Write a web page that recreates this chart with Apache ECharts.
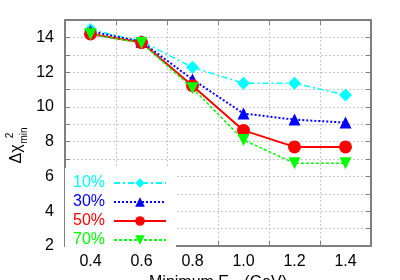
<!DOCTYPE html>
<html>
<head>
<meta charset="utf-8">
<script src="https://cdn.jsdelivr.net/npm/echarts@6/dist/echarts.min.js"></script>
<style>html,body{margin:0;padding:0;background:#fff}#c{width:400px;height:280px}</style>
</head>
<body>
<div id="c"></div>
<script>
var xValues = [0.4, 0.6, 0.8, 1.0, 1.2, 1.4];
var names = ['10%', '30%', '50%', '70%'];
var s10 = [14.45, 13.77, 12.28, 11.36, 11.36, 10.69];
var s30 = [14.35, 13.75, 11.58, 9.62, 9.27, 9.1];
var s50 = [14.2, 13.7, 11.22, 8.65, 7.7, 7.7];
var s70 = [14.18, 13.68, 11.08, 8.1, 6.76, 6.76];
var xTickLabels = ['0.4', '0.6', '0.8', '1.0', '1.2', '1.4'];
var yTickLabels = ['2', '4', '6', '8', '10', '12', '14'];

var FONT = 'Liberation Sans';
var AX = '#7f7f7f';
function pairs(arr) { return xValues.map(function (x, i) { return [x, arr[i]]; }); }

var chart = echarts.init(document.getElementById('c'), null, {renderer: 'canvas'});
var gridLine = {show: true, lineStyle: {color: '#c8c8c8', type: [2, 2], width: 1}};
var tickIn = {show: true, inside: true, length: 5, lineStyle: {color: AX, width: 1}};
var axLine = {show: true, onZero: false, lineStyle: {color: AX, width: 2}};
var off = {show: false};

function lbl(arr) {
  return function (v) {
    var s = (Math.round(v * 10) / 10).toFixed(1);
    return arr.indexOf(s) >= 0 ? s : '';
  };
}
function lblY(v) {
  var s = String(Math.round(v));
  return yTickLabels.indexOf(s) >= 0 ? s : '';
}

var seriesDefs = [
  {name: names[0], data: s10, color: '#00ffff', symbol: 'diamond', symbolSize: 13, type: [6, 3, 2, 3], width: 1.5},
  {name: names[1], data: s30, color: '#0000ff', symbol: 'triangle', symbolSize: 12, type: [2, 2], width: 2},
  {name: names[2], data: s50, color: '#ff0000', symbol: 'circle', symbolSize: 13, type: 'solid', width: 2},
  {name: names[3], data: s70, color: '#00ff00', symbol: 'path://M0,0 L10,0 L5,10 Z', symbolSize: 12, type: [3, 2], width: 1.5}
];

var yNameRich = {
  a: {fontSize: 16, fontFamily: FONT, color: '#000', lineHeight: 24, verticalAlign: 'middle'},
  h: {fontSize: 16, fontFamily: FONT, color: 'rgba(0,0,0,0)', lineHeight: 24, verticalAlign: 'middle'},
  s: {fontSize: 10, fontFamily: FONT, color: '#000', lineHeight: 12, width: 18, verticalAlign: 'top'},
  m: {fontSize: 10, fontFamily: FONT, color: '#000', lineHeight: 18, width: 18, verticalAlign: 'bottom'}
};
function nameAxis(text) {
  return {type: 'value', min: 2, max: 15, interval: 1, position: 'left',
    axisLine: off, axisTick: off, splitLine: off, axisLabel: off,
    name: text, nameLocation: 'middle', nameGap: 36, nameRotate: 90,
    nameTextStyle: {rich: yNameRich, padding: [0, 24, 0, 0]}};
}

var option = {
  animation: false,
  backgroundColor: '#fff',
  grid: {left: 65, right: 29, top: 20, bottom: 34, containLabel: false, outerBoundsMode: 'none'},
  xAxis: [
    {type: 'value', min: 0.3, max: 1.5, interval: 0.2, position: 'bottom',
      axisLine: axLine, axisTick: tickIn, axisLabel: off, splitLine: gridLine},
    {type: 'value', min: 0.3, max: 1.5, interval: 0.1, position: 'bottom',
      axisLine: off, axisTick: off, splitLine: off,
      axisLabel: {show: true, margin: 8, color: '#000', fontSize: 16, fontFamily: FONT, formatter: lbl(xTickLabels)},
      name: '{a|Minimum E}{r|rec}{a|(GeV)}', nameLocation: 'middle', nameGap: 23,
      nameTextStyle: {rich: {a: {fontSize: 16, fontFamily: FONT, color: '#000', lineHeight: 18, verticalAlign: 'top'}, r: {fontSize: 11, fontFamily: FONT, color: '#000', lineHeight: 12, verticalAlign: 'top', padding: [9, 0, 0, 0]}}}},
    {type: 'value', min: 0.3, max: 1.5, interval: 0.2, position: 'top',
      axisLine: axLine, axisTick: tickIn, axisLabel: off, splitLine: off}
  ],
  yAxis: [
    {type: 'value', min: 2, max: 15, interval: 1, position: 'left',
      axisLine: axLine, axisTick: tickIn, splitLine: gridLine,
      axisLabel: {show: true, margin: 11, color: '#000', fontSize: 16, fontFamily: FONT, formatter: lblY}},
    {type: 'value', min: 2, max: 15, interval: 1, position: 'right',
      axisLine: axLine, axisTick: tickIn, splitLine: off, axisLabel: off},
    nameAxis('{a|Δχ}{s|2}'),
    nameAxis('{h|Δχ}{m|min}')
  ],
  legend: {
    left: 65, top: 168, orient: 'vertical', align: 'right',
    backgroundColor: '#ffffff', padding: [7, 9, 4, 8],
    itemWidth: 52, itemHeight: 12, itemGap: 3,
    textStyle: {fontSize: 16, lineHeight: 14, fontFamily: FONT, padding: [0, 4, 0, 0]},
    data: seriesDefs.map(function (d) { return {name: d.name, textStyle: {color: d.color}}; })
  },
  series: seriesDefs.map(function (d) {
    return {
      name: d.name, type: 'line', xAxisIndex: 0, yAxisIndex: 0,
      data: pairs(d.data), symbol: d.symbol, symbolSize: d.symbolSize,
      itemStyle: {color: d.color, opacity: 1},
      lineStyle: {color: d.color, width: d.width, type: d.type},
      z: 3
    };
  })
};
chart.setOption(option);
</script>
</body>
</html>
